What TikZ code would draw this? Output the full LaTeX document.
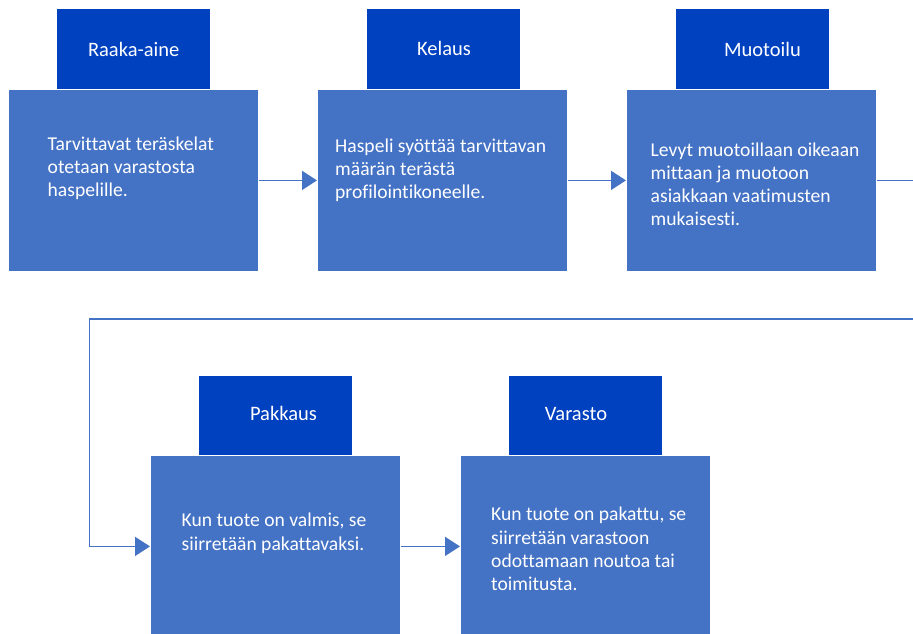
\documentclass[tikz,border=0pt]{standalone}
\usepackage{fontspec}
\setmainfont{Carlito}[Ligatures={NoCommon}]
\usetikzlibrary{arrows.meta}
\definecolor{hdr}{RGB}{0,65,192}
\definecolor{bdy}{RGB}{68,114,196}
\begin{document}
\begin{tikzpicture}[x=1pt,y=-1pt,
  hdrbox/.style={draw=white, line width=0.8pt, fill=hdr, inner sep=0pt,
    minimum width=154pt, minimum height=81pt, anchor=north west},
  bdybox/.style={draw=white, line width=0.8pt, fill=bdy, inner sep=0pt,
    minimum width=250pt, minimum height=182pt, anchor=north west},
  hdrtxt/.style={text=white, inner sep=0pt, anchor=base,
    font=\fontsize{20.5}{24}\selectfont},
  bdytxt/.style={text=white, inner sep=0pt, anchor=north west, align=left,
    font=\fontsize{19.6}{23.3}\selectfont},
  flow/.style={draw=bdy, line width=1.5pt,
    -{Triangle[length=15pt,width=19pt]}}
]
\clip (0,0) rectangle (913,633);
\fill[white] (0,0) rectangle (913,633);

% headers
\node[hdrbox] (h1) at (56,8) {};
\node[hdrbox] (h2) at (366,8) {};
\node[hdrbox] (h3) at (675,8) {};
\node[hdrbox] (h4) at (198,375) {};
\node[hdrbox] (h5) at (508,375) {};

% bodies
\node[bdybox] (b1) at (8,89) {};
\node[bdybox] (b2) at (317,89) {};
\node[bdybox] (b3) at (626,89) {};
\node[bdybox] (b4) at (150,455) {};
\node[bdybox] (b5) at (460,455) {};

% header texts
\node[hdrtxt] (l1) at (133.7,56) {Raaka-aine};
\node[hdrtxt] (l2) at (444,55.5) {Kelaus};
\node[hdrtxt] (l3) at (762.5,56) {Muotoilu};
\node[hdrtxt] (l4) at (283.5,420) {Pakkaus};
\node[hdrtxt] (l5) at (576,420) {Varasto};

% body texts (north = first baseline - 0.7*baselineskip)
\node[bdytxt] (t1) at (47.5,133.7) {\strut Tarvittavat teräskelat\\otetaan varastosta\\haspelille.};
\node[bdytxt] (t2) at (335,135.5) {\strut Haspeli syöttää tarvittavan\\määrän terästä\\profilointikoneelle.};
\node[bdytxt] (t3) at (650.5,139.5) {\strut Levyt muotoillaan oikeaan\\mittaan ja muotoon\\asiakkaan vaatimusten\\mukaisesti.};
\node[bdytxt] (t4) at (181.5,510.4) {\strut Kun tuote on valmis, se\\siirretään pakattavaksi.};
\node[bdytxt] (t5) at (491,504.4) {\strut Kun tuote on pakattu, se\\siirretään varastoon\\odottamaan noutoa tai\\toimitusta.};

% connectors
\coordinate (rt) at (930,319);
\coordinate (lt) at (89.5,319);
\draw[flow] (b1.east) -- (b2.west);
\draw[flow] (b2.east) -- (b3.west);
\draw[flow] (b3.east) -| (rt) -- (lt) |- (b4.west);
\draw[flow] (b4.east) -- (b5.west);
\end{tikzpicture}
\end{document}
